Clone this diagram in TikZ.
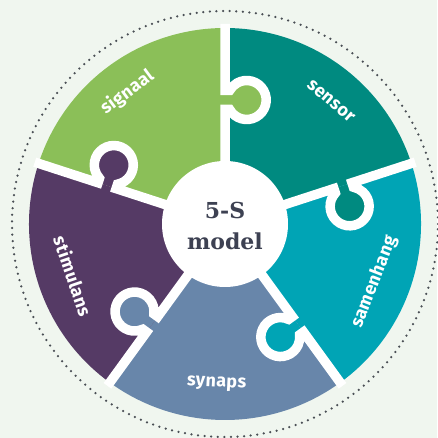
\documentclass[tikz,border=0pt]{standalone}
\usepackage{fontspec}
\usetikzlibrary{calc}
\setmainfont{Fira Sans}
\newfontfamily\centerfont{DejaVu Serif}
\definecolor{bgc}{HTML}{F0F6EF}
\definecolor{cgreen}{HTML}{8BBF58}
\definecolor{cteal}{HTML}{008A80}
\definecolor{ccyan}{HTML}{00A4B5}
\definecolor{cblue}{HTML}{6886AA}
\definecolor{cpurple}{HTML}{553A65}
\definecolor{ctext}{HTML}{3D4152}
\definecolor{cdots}{HTML}{4A4F55}
\tikzset{
  cutline/.style={white, line width=9.5pt},
  lbl/.style={text=white, font=\bfseries\fontsize{18}{21}\selectfont\addfontfeature{LetterSpace=2}, inner sep=0pt},
  ctr/.style={text=ctext, font=\centerfont\bfseries\fontsize{22}{31}\selectfont, align=center, inner sep=0pt}
}
\begin{document}
\begin{tikzpicture}[x=1pt,y=1pt]
\useasboundingbox (0,0) rectangle (437,438);
\fill[bgc] (0,0) rectangle (437,438);
\coordinate (O) at (225,214);
\draw[cdots, line width=2.5pt, line cap=round, dash pattern=on 0pt off 6.6pt] (O) circle[radius=213];
% sectors
\foreach \a/\b/\c in {90/162/cgreen, 18/90/cteal, -54/18/ccyan, 234/306/cblue, 162/234/cpurple}{
  \fill[\c] (O) -- ++(\a:196) arc[start angle=\a, end angle=\b, radius=196] -- cycle;
}
% knobs and cuts
\foreach \t/\c in {90/cgreen, 162/cpurple, 234/cblue, 306/ccyan, 18/cteal}{
  \begin{scope}[shift={(O)}, rotate=\t]
    \fill[\c] (114.5,0) -- (114.5,-4.67) arc[start angle=119.15, end angle=420.85, radius=19.5] -- (133.5,0) -- cycle;
    \draw[cutline] (0,0) -- (114.5,0) -- (114.5,-4.67) arc[start angle=119.15, end angle=420.85, radius=19.5] -- (133.5,0) -- (200,0);
  \end{scope}
}
\fill[white] (O) circle[radius=63];
\node[ctr] (c) at ([yshift=-2]O) {5-S\\model};
\node[lbl, rotate=36.6] (l1) at ($(O)+(126.6:164)$) {signaal};
\node[lbl, rotate=-40.8] (l2) at ($(O)+(49.2:162)$) {sensor};
\node[lbl, rotate=68.8] (l3) at ($(O)+(-21.2:160)$) {samenhang};
\node[lbl, rotate=-3] (l4) at ($(O)+(267:160)$) {synaps};
\node[lbl, rotate=-71.1] (l5) at ($(O)+(198.9:160.6)$) {stimulans};
\end{tikzpicture}
\end{document}
